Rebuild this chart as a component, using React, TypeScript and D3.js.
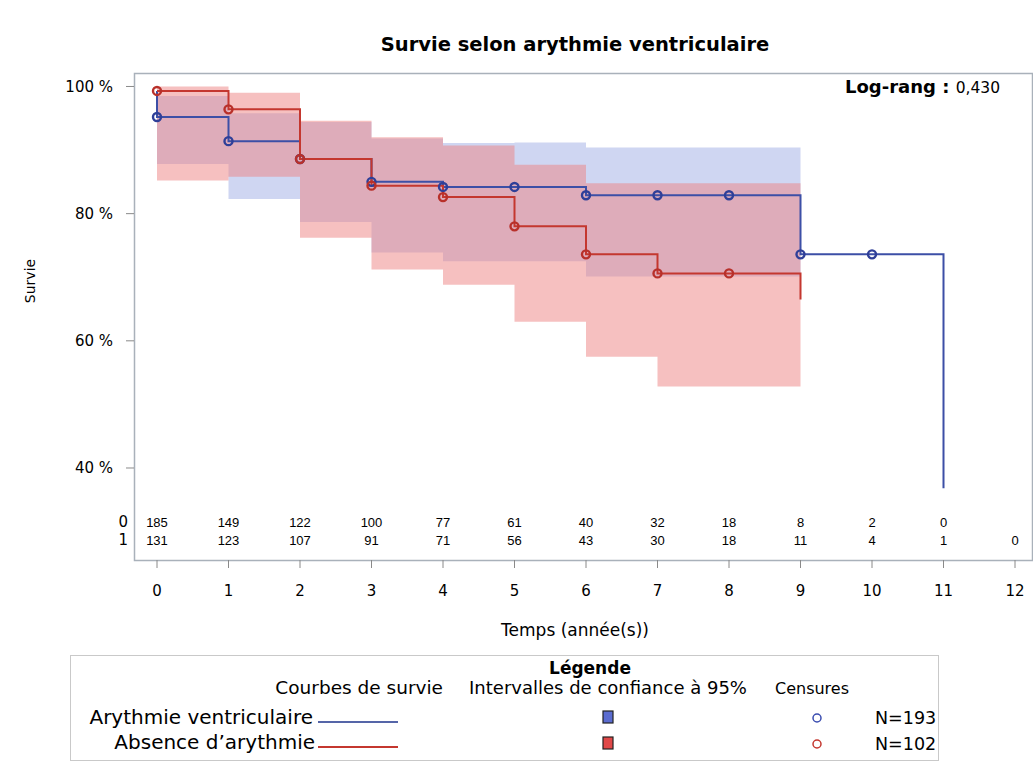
import React, { useRef, useEffect } from 'react';
import * as d3 from 'd3';

// survival curves (time of step, survival after step)
const blueTimes = [0, 0, 1, 2, 3, 4, 6, 9, 11];
const blueSurv = [0.993, 0.952, 0.914, 0.886, 0.85, 0.842, 0.829, 0.736, 0.368];
const redTimes = [0, 1, 2, 3, 4, 5, 6, 7, 9];
const redSurv = [0.993, 0.964, 0.886, 0.844, 0.826, 0.78, 0.736, 0.706, 0.665];

// censor marks
const blueCensor = [0, 1, 2, 3, 4, 5, 6, 7, 8, 9, 10];
const redCensor = [0, 1, 2, 3, 4, 5, 6, 7, 8];

// 95% confidence bands (step after each time)
const blueBandTimes = [0, 1, 2, 3, 4, 5, 6, 9];
const blueBandHigh = [0.985, 0.958, 0.944, 0.918, 0.911, 0.912, 0.904, 0.904];
const blueBandLow = [0.878, 0.823, 0.787, 0.739, 0.725, 0.725, 0.701, 0.701];
const redBandTimes = [0, 1, 2, 3, 4, 5, 6, 7, 9];
const redBandHigh = [1.0, 0.99, 0.946, 0.92, 0.907, 0.877, 0.848, 0.848, 0.848];
const redBandLow = [0.852, 0.858, 0.762, 0.712, 0.688, 0.63, 0.575, 0.528, 0.528];

// at-risk table
const riskRow0 = [185, 149, 122, 100, 77, 61, 40, 32, 18, 8, 2, 0];
const riskRow1 = [131, 123, 107, 91, 71, 56, 43, 30, 18, 11, 4, 1, 0];

const xTicks = [0, 1, 2, 3, 4, 5, 6, 7, 8, 9, 10, 11, 12];
const yTicks = [0.4, 0.6, 0.8, 1.0];

const BLUE = '#3c4fa6';
const RED = '#c4372f';
const SANS = 'DejaVu Sans, sans-serif';

const stepValue = (times: number[], surv: number[], t: number) => {
  let v = surv[0];
  times.forEach((tt, i) => { if (tt <= t) v = surv[i]; });
  return v;
};

const App: React.FC = () => {
  const svgRef = useRef<SVGSVGElement | null>(null);

  useEffect(() => {
    const svg = d3.select(svgRef.current!);
    svg.selectAll('*').remove();

    const left = 134, right = 1032, top = 73, bottom = 560;
    const x = d3.scaleLinear().domain([0, 12]).range([157, 1015]);
    const y = d3.scaleLinear().domain([0.2553, 1.0212]).range([bottom, top]);

    // title
    svg.append('text')
      .attr('x', 575).attr('y', 51)
      .attr('text-anchor', 'middle')
      .style('font-family', SANS).style('font-weight', 'bold').style('font-size', '19.5px')
      .text('Survie selon arythmie ventriculaire');

    const plot = svg.append('g');

    // bands
    const band = (times: number[], lo: number[], hi: number[], color: string, op: number) => {
      const pts = times.map((t, i) => ({ t, lo: lo[i], hi: hi[i] }));
      const area = d3.area<any>()
        .x((d) => x(d.t))
        .y0((d) => y(d.lo))
        .y1((d) => y(d.hi))
        .curve(d3.curveStepAfter);
      plot.append('path').attr('d', area(pts) as string)
        .attr('fill', color).attr('fill-opacity', op);
    };
    band(blueBandTimes, blueBandLow, blueBandHigh, '#9fade5', 0.5);
    band(redBandTimes, redBandLow, redBandHigh, '#ee8282', 0.5);

    // curves
    const line = d3.line<any>().x((d) => x(d.t)).y((d) => y(d.s)).curve(d3.curveStepAfter);
    const curve = (times: number[], surv: number[], color: string) => {
      plot.append('path')
        .attr('d', line(times.map((t, i) => ({ t, s: surv[i] }))) as string)
        .attr('fill', 'none').attr('stroke', color).attr('stroke-width', 2);
    };
    curve(blueTimes, blueSurv, BLUE);
    curve(redTimes, redSurv, RED);

    const censor = (ts: number[], times: number[], surv: number[], color: string) => {
      plot.selectAll(null).data(ts).enter().append('circle')
        .attr('cx', (t) => x(t))
        .attr('cy', (t) => y(stepValue(times, surv, t)))
        .attr('r', 4)
        .attr('fill', 'none').attr('stroke', color).attr('stroke-width', 2.4);
    };
    censor(blueCensor, blueTimes, blueSurv, '#2f3f98');
    censor(redCensor, redTimes, redSurv, '#b8302a');

    // frame
    svg.append('rect')
      .attr('x', left + 0.5).attr('y', top + 0.5)
      .attr('width', right - left).attr('height', bottom - top)
      .attr('fill', 'none').attr('stroke', '#a9b1ba').attr('stroke-width', 1.5);

    // y axis
    yTicks.forEach((v) => {
      svg.append('line')
        .attr('x1', 126).attr('x2', left).attr('y1', y(v)).attr('y2', y(v))
        .attr('stroke', '#8a8a8a');
      svg.append('text')
        .attr('x', 113).attr('y', y(v)).attr('dy', '0.36em')
        .attr('text-anchor', 'end')
        .style('font-family', SANS).style('font-size', '15px')
        .text(`${Math.round(v * 100)} %`);
    });
    svg.append('text')
      .attr('transform', 'translate(35,281) rotate(-90)')
      .attr('text-anchor', 'middle')
      .style('font-family', SANS).style('font-size', '14px')
      .text('Survie');

    // log-rank
    const lr = svg.append('text')
      .attr('x', 1000).attr('y', 93)
      .attr('text-anchor', 'end')
      .style('font-family', SANS);
    lr.append('tspan').style('font-weight', 'bold').style('font-size', '18px').text('Log-rang : ');
    lr.append('tspan').style('font-size', '15.5px').text('0,430');

    // at-risk table
    const riskRow = (vals: number[], yy: number) => {
      svg.selectAll(null).data(vals).enter().append('text')
        .attr('x', (_d, i) => x(xTicks[i]))
        .attr('y', yy)
        .attr('text-anchor', 'middle')
        .style('font-family', 'Liberation Sans, Arial, sans-serif').style('font-size', '13px')
        .text((d) => d);
    };
    riskRow(riskRow0, 527);
    riskRow(riskRow1, 545);
    [['0', 527], ['1', 545]].forEach(([lab, yy]) => {
      svg.append('text')
        .attr('x', 128).attr('y', yy as number).attr('text-anchor', 'end')
        .style('font-family', SANS).style('font-size', '15px')
        .text(lab as string);
    });

    // x axis
    const xAxis = svg.append('g');
    xTicks.forEach((t) => {
      xAxis.append('line')
        .attr('x1', x(t)).attr('x2', x(t)).attr('y1', bottom).attr('y2', bottom + 8)
        .attr('stroke', '#8a8a8a');
      xAxis.append('text')
        .attr('x', x(t)).attr('y', 596).attr('text-anchor', 'middle')
        .style('font-family', SANS).style('font-size', '15px')
        .text(t);
    });
    svg.append('text')
      .attr('x', 575).attr('y', 636).attr('text-anchor', 'middle')
      .style('font-family', SANS).style('font-size', '17px')
      .text('Temps (année(s))');

    // legend
    const lg = svg.append('g');
    lg.append('rect')
      .attr('x', 70.5).attr('y', 655.5).attr('width', 868).attr('height', 105)
      .attr('fill', 'white').attr('stroke', '#c9c9c9');
    const lt = (txt: string, xx: number, yy: number, anchor: string, size: number, bold = false) =>
      lg.append('text').attr('x', xx).attr('y', yy).attr('text-anchor', anchor)
        .style('font-family', SANS).style('font-size', `${size}px`)
        .style('font-weight', bold ? 'bold' : 'normal').text(txt);
    lt('Légende', 590, 674, 'middle', 17, true);
    lt('Courbes de survie', 443, 694, 'end', 18.5);
    lt('Intervalles de confiance à 95%', 608, 694, 'middle', 18);
    lt('Censures', 812, 694, 'middle', 16);
    lt('Arythmie ventriculaire', 313, 724, 'end', 20);
    lt('Absence d’arythmie', 315, 749, 'end', 20);
    lt('N=193', 875, 724, 'start', 17.5);
    lt('N=102', 875, 750, 'start', 17.5);
    lg.append('line').attr('x1', 318).attr('x2', 398).attr('y1', 722).attr('y2', 722)
      .attr('stroke', '#5565a8').attr('stroke-width', 2);
    lg.append('line').attr('x1', 318).attr('x2', 398).attr('y1', 747).attr('y2', 747)
      .attr('stroke', RED).attr('stroke-width', 2);
    lg.append('rect').attr('x', 603).attr('y', 711).attr('width', 10).attr('height', 12)
      .attr('fill', '#5b6cd0').attr('stroke', '#222').attr('stroke-width', 1.2);
    lg.append('rect').attr('x', 603).attr('y', 737).attr('width', 10).attr('height', 12)
      .attr('fill', '#e04848').attr('stroke', '#222').attr('stroke-width', 1.2);
    lg.append('circle').attr('cx', 817).attr('cy', 718).attr('r', 4)
      .attr('fill', 'none').attr('stroke', '#3a4cb0').attr('stroke-width', 1.5);
    lg.append('circle').attr('cx', 817).attr('cy', 744).attr('r', 4)
      .attr('fill', 'none').attr('stroke', '#c4372f').attr('stroke-width', 1.5);
  }, []);

  return (
    <svg
      ref={svgRef}
      width={1033}
      height={762}
      style={{ position: 'absolute', left: 0, top: 0, background: 'white' }}
    />
  );
};

export default App;
